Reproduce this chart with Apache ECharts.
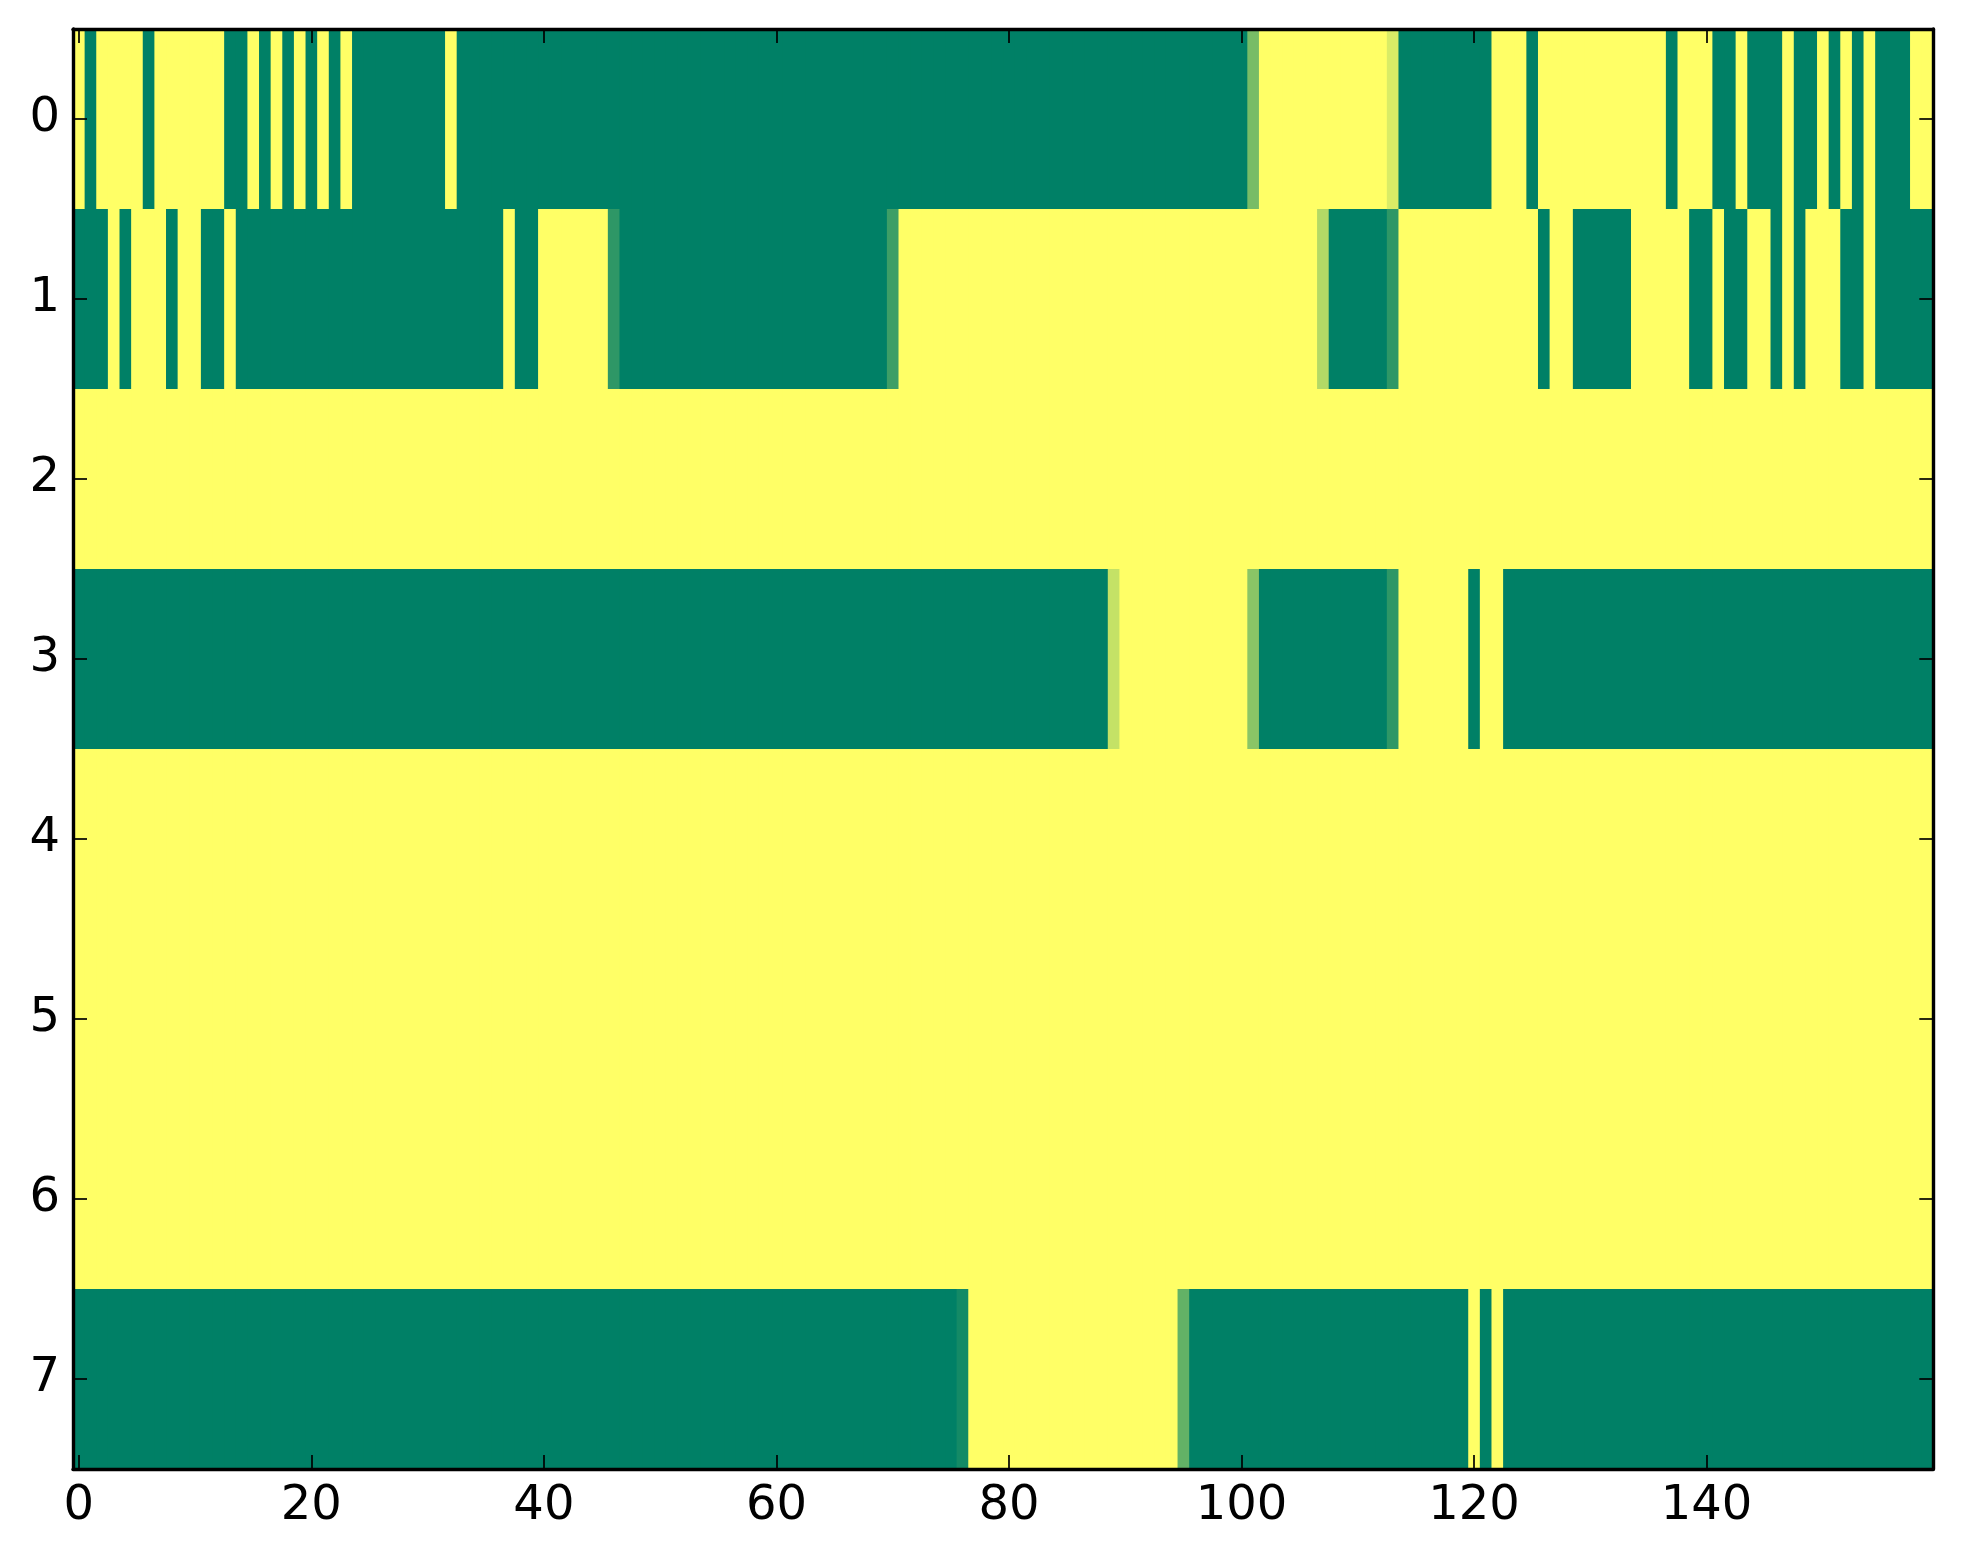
<!DOCTYPE html>
<html>
<head>
<meta charset="utf-8">
<script src="https://cdn.jsdelivr.net/npm/echarts@6/dist/echarts.min.js"></script>
<style>
html,body{margin:0;padding:0;background:#fff;}
#chart{width:1963px;height:1564px;}
</style>
</head>
<body>
<div id="chart"></div>
<script>
// Column categories (0..159) and row categories (0..7)
const xCats = [];
for (let i = 0; i < 160; i++) xCats.push(String(i));
const yCats = ['0','1','2','3','4','5','6','7'];

// Cell values, one array per row (0 = green, 1 = yellow, summer colormap)
const row0 = [
1,0,1,1,1,1,0,1,1,1,1,1,1,0,0,1,0,1,0,1,
0,1,0,1,0,0,0,0,0,0,0,0,1,0,0,0,0,0,0,0,
0,0,0,0,0,0,0,0,0,0,0,0,0,0,0,0,0,0,0,0,
0,0,0,0,0,0,0,0,0,0,0,0,0,0,0,0,0,0,0,0,
0,0,0,0,0,0,0,0,0,0,0,0,0,0,0,0,0,0,0,0,
0,0.47,1,1,1,1,1,1,1,1,1,1,1,0.85,0,0,0,0,0,0,
0,0,1,1,1,0,1,1,1,1,1,1,1,1,1,1,1,0,1,1,
1,0,0,1,0,0,0,1,0,0,1,0,1,0,1,0,0,0,1,1
];
const row1 = [
0,0,0,1,0,1,1,1,0,1,1,0,0,1,0,0,0,0,0,0,
0,0,0,0,0,0,0,0,0,0,0,0,0,0,0,0,0,1,0,0,
1,1,1,1,1,1,0.18,0,0,0,0,0,0,0,0,0,0,0,0,0,
0,0,0,0,0,0,0,0,0,0,0.24,1,1,1,1,1,1,1,1,1,
1,1,1,1,1,1,1,1,1,1,1,1,1,1,1,1,1,1,1,1,
1,1,1,1,1,1,1,0.7,0,0,0,0,0,0.18,1,1,1,1,1,1,
1,1,1,1,1,1,0,1,1,0,0,0,0,0,1,1,1,1,1,0,
0,1,0,0,1,1,0,1,0,1,1,1,0,0,1,0,0,0,0,0
];
const row2 = [
1,1,1,1,1,1,1,1,1,1,1,1,1,1,1,1,1,1,1,1,
1,1,1,1,1,1,1,1,1,1,1,1,1,1,1,1,1,1,1,1,
1,1,1,1,1,1,1,1,1,1,1,1,1,1,1,1,1,1,1,1,
1,1,1,1,1,1,1,1,1,1,1,1,1,1,1,1,1,1,1,1,
1,1,1,1,1,1,1,1,1,1,1,1,1,1,1,1,1,1,1,1,
1,1,1,1,1,1,1,1,1,1,1,1,1,1,1,1,1,1,1,1,
1,1,1,1,1,1,1,1,1,1,1,1,1,1,1,1,1,1,1,1,
1,1,1,1,1,1,1,1,1,1,1,1,1,1,1,1,1,1,1,1
];
const row3 = [
0,0,0,0,0,0,0,0,0,0,0,0,0,0,0,0,0,0,0,0,
0,0,0,0,0,0,0,0,0,0,0,0,0,0,0,0,0,0,0,0,
0,0,0,0,0,0,0,0,0,0,0,0,0,0,0,0,0,0,0,0,
0,0,0,0,0,0,0,0,0,0,0,0,0,0,0,0,0,0,0,0,
0,0,0,0,0,0,0,0,0,0.77,1,1,1,1,1,1,1,1,1,1,
1,0.54,0,0,0,0,0,0,0,0,0,0,0,0.18,1,1,1,1,1,1,
0,1,1,0,0,0,0,0,0,0,0,0,0,0,0,0,0,0,0,0,
0,0,0,0,0,0,0,0,0,0,0,0,0,0,0,0,0,0,0,0
];
const row4 = [
1,1,1,1,1,1,1,1,1,1,1,1,1,1,1,1,1,1,1,1,
1,1,1,1,1,1,1,1,1,1,1,1,1,1,1,1,1,1,1,1,
1,1,1,1,1,1,1,1,1,1,1,1,1,1,1,1,1,1,1,1,
1,1,1,1,1,1,1,1,1,1,1,1,1,1,1,1,1,1,1,1,
1,1,1,1,1,1,1,1,1,1,1,1,1,1,1,1,1,1,1,1,
1,1,1,1,1,1,1,1,1,1,1,1,1,1,1,1,1,1,1,1,
1,1,1,1,1,1,1,1,1,1,1,1,1,1,1,1,1,1,1,1,
1,1,1,1,1,1,1,1,1,1,1,1,1,1,1,1,1,1,1,1
];
const row5 = [
1,1,1,1,1,1,1,1,1,1,1,1,1,1,1,1,1,1,1,1,
1,1,1,1,1,1,1,1,1,1,1,1,1,1,1,1,1,1,1,1,
1,1,1,1,1,1,1,1,1,1,1,1,1,1,1,1,1,1,1,1,
1,1,1,1,1,1,1,1,1,1,1,1,1,1,1,1,1,1,1,1,
1,1,1,1,1,1,1,1,1,1,1,1,1,1,1,1,1,1,1,1,
1,1,1,1,1,1,1,1,1,1,1,1,1,1,1,1,1,1,1,1,
1,1,1,1,1,1,1,1,1,1,1,1,1,1,1,1,1,1,1,1,
1,1,1,1,1,1,1,1,1,1,1,1,1,1,1,1,1,1,1,1
];
const row6 = [
1,1,1,1,1,1,1,1,1,1,1,1,1,1,1,1,1,1,1,1,
1,1,1,1,1,1,1,1,1,1,1,1,1,1,1,1,1,1,1,1,
1,1,1,1,1,1,1,1,1,1,1,1,1,1,1,1,1,1,1,1,
1,1,1,1,1,1,1,1,1,1,1,1,1,1,1,1,1,1,1,1,
1,1,1,1,1,1,1,1,1,1,1,1,1,1,1,1,1,1,1,1,
1,1,1,1,1,1,1,1,1,1,1,1,1,1,1,1,1,1,1,1,
1,1,1,1,1,1,1,1,1,1,1,1,1,1,1,1,1,1,1,1,
1,1,1,1,1,1,1,1,1,1,1,1,1,1,1,1,1,1,1,1
];
const row7 = [
0,0,0,0,0,0,0,0,0,0,0,0,0,0,0,0,0,0,0,0,
0,0,0,0,0,0,0,0,0,0,0,0,0,0,0,0,0,0,0,0,
0,0,0,0,0,0,0,0,0,0,0,0,0,0,0,0,0,0,0,0,
0,0,0,0,0,0,0,0,0,0,0,0,0,0,0,0,0.08,1,1,1,
1,1,1,1,1,1,1,1,1,1,1,1,1,1,1,0.39,0,0,0,0,
0,0,0,0,0,0,0,0,0,0,0,0,0,0,0,0,0,0,0,0,
1,0,1,0,0,0,0,0,0,0,0,0,0,0,0,0,0,0,0,0,
0,0,0,0,0,0,0,0,0,0,0,0,0,0,0,0,0,0,0,0
];

const rows = [row0, row1, row2, row3, row4, row5, row6, row7];
const cells = [];
rows.forEach(function (r, yi) {
  r.forEach(function (v, xi) { cells.push([xi, yi, v]); });
});

const FONT = 'DejaVu Sans';
const showEvery20 = function (i) { return i % 20 === 0; };
const lineStyle = { color: '#000', width: 3.4 };
const tickStyle = { color: '#000', width: 1.7 };

function xAxisDef(pos, showLabel) {
  return {
    type: 'category', data: xCats, position: pos, z: 10,
    axisLine: { show: true, onZero: false, lineStyle: lineStyle },
    axisTick: { show: true, inside: true, length: 14, alignWithLabel: true, interval: showEvery20, lineStyle: tickStyle },
    axisLabel: { show: showLabel, interval: showEvery20, fontFamily: FONT, fontSize: 48, color: '#000', margin: 14 },
    splitLine: { show: false }
  };
}
function yAxisDef(pos, showLabel) {
  return {
    type: 'category', data: yCats, inverse: true, position: pos, z: 10,
    axisLine: { show: true, onZero: false, lineStyle: lineStyle },
    axisTick: { show: true, inside: true, length: 14, alignWithLabel: true, interval: 0, lineStyle: tickStyle },
    axisLabel: { show: showLabel, interval: 0, fontFamily: FONT, fontSize: 48, color: '#000', margin: 13 },
    splitLine: { show: false }
  };
}

const chart = echarts.init(document.getElementById('chart'), null, { renderer: 'canvas' });
chart.setOption({
  animation: false,
  backgroundColor: '#ffffff',
  grid: { left: 73, right: 29.7, top: 29, bottom: 95, containLabel: false },
  visualMap: {
    show: false, type: 'continuous', min: 0, max: 1, dimension: 2, seriesIndex: 0,
    inRange: { color: ['#008066', '#ffff66'] }
  },
  xAxis: [xAxisDef('bottom', true), xAxisDef('top', false)],
  yAxis: [yAxisDef('left', true), yAxisDef('right', false)],
  series: [{
    type: 'custom', xAxisIndex: 0, yAxisIndex: 0, data: cells,
    encode: { x: 0, y: 1 },
    progressive: 0,
    silent: true,
    renderItem: function (params, api) {
      const c = api.coord([api.value(0), api.value(1)]);
      const s = api.size([1, 1]);
      return {
        type: 'rect',
        shape: { x: c[0] - s[0] / 2, y: c[1] - s[1] / 2, width: s[0] + 1, height: s[1] + 1 },
        style: { fill: api.visual('color'), stroke: null }
      };
    }
  }]
});
</script>
</body>
</html>
